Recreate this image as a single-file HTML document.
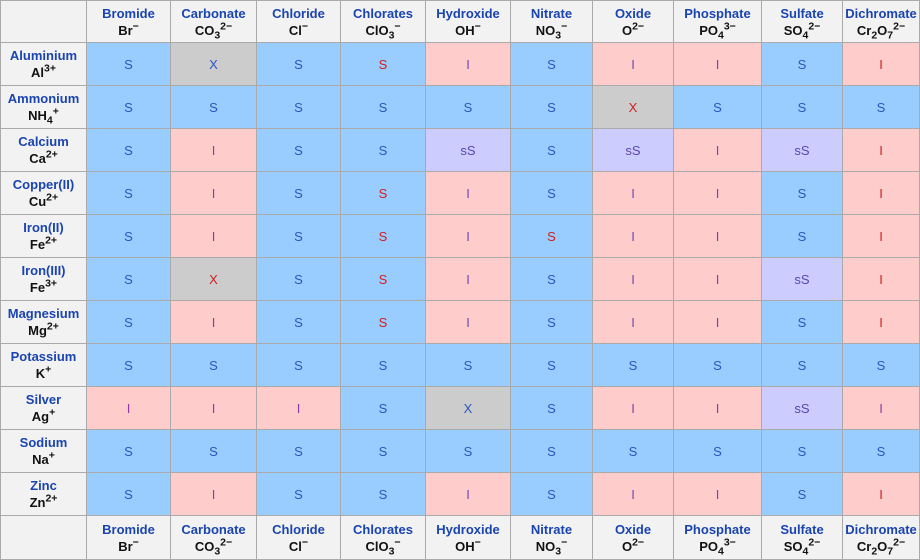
<!DOCTYPE html>
<html><head><meta charset="utf-8"><style>
body{margin:0;width:920px;height:560px;background:#fff;overflow:hidden;font-family:"Liberation Sans",Arial,sans-serif}
#g{position:relative;width:920px;height:560px}
.c{position:absolute;box-sizing:border-box;border-right:1px solid #aaa;border-bottom:1px solid #aaa;display:flex;flex-direction:column;align-items:center;justify-content:center;text-align:center;font-size:13px}
.h{background:#f2f2f2;font-weight:bold;line-height:17px}
.n{color:#1a44b0}
.f{color:#111}
sup,sub{font-size:10.5px;line-height:0}
.S{background:#99ccff}.I{background:#ffcccc}.sS{background:#ccccff}.X{background:#cccccc}
</style></head><body>
<div id="g"></div>
<script>
const anions=["Bromide","Carbonate","Chloride","Chlorates","Hydroxide","Nitrate","Oxide","Phosphate","Sulfate","Dichromate"];
const anionF=["Br<sup>−</sup>","CO<sub>3</sub><sup>2−</sup>","Cl<sup>−</sup>","ClO<sub>3</sub><sup>−</sup>","OH<sup>−</sup>","NO<sub>3</sub><sup>−</sup>","O<sup>2−</sup>","PO<sub>4</sub><sup>3−</sup>","SO<sub>4</sub><sup>2−</sup>","Cr<sub>2</sub>O<sub>7</sub><sup>2−</sup>"];
const cations=["Aluminium","Ammonium","Calcium","Copper(II)","Iron(II)","Iron(III)","Magnesium","Potassium","Silver","Sodium","Zinc"];
const cationF=["Al<sup>3+</sup>","NH<sub>4</sub><sup>+</sup>","Ca<sup>2+</sup>","Cu<sup>2+</sup>","Fe<sup>2+</sup>","Fe<sup>3+</sup>","Mg<sup>2+</sup>","K<sup>+</sup>","Ag<sup>+</sup>","Na<sup>+</sup>","Zn<sup>2+</sup>"];
const vals=[
"S X S S I S I I S I","S S S S S S X S S S","S I S S sS S sS I sS I","S I S S I S I I S I","S I S S I S I I S I",
"S X S S I S I I sS I","S I S S I S I I S I","S S S S S S S S S S","I I I S X S I I sS I","S S S S S S S S S S","S I S S I S I I S I"];
const red=["3R,9R","6R","9R","3R,9R","3R,5R,9R","1R,3R,9R","3R,9R","","","","9R"];
const colX=[0,87,171,257,341,426,511,593,674,762,843,920];
const rowY=[0,43,86,129,172,215,258,301,344,387,430,473,516,560];
const g=document.getElementById('g');
function cell(x0,x1,y0,y1,cls,html,color){
  const d=document.createElement('div');d.className='c '+cls;
  d.style.left=x0+'px';d.style.top=y0+'px';d.style.width=(x1-x0)+'px';d.style.height=(y1-y0)+'px';
  if(x0===0)d.style.borderLeft='1px solid #aaa';if(y0===0)d.style.borderTop='1px solid #aaa';
  d.innerHTML=html;if(color)d.style.color=color;g.appendChild(d);return d;}
const corner=cell(0,87,0,43,'h','');


[0,12].forEach(r=>{anions.forEach((a,i)=>{
  const d=cell(colX[i+1],colX[i+2],rowY[r],rowY[r+1],'h','<span class="n">'+a+'</span><span class="f">'+anionF[i]+'</span>');
  
  
});});
const fc=cell(0,87,516,560,'h','');


cations.forEach((c,r)=>{
  const h=cell(0,87,rowY[r+1],rowY[r+2],'h','<span class="n">'+c+'</span><span class="f">'+cationF[r]+'</span>');
  
  
  const vs=vals[r].split(' ');const reds=red[r].split(',').filter(Boolean).map(s=>parseInt(s));
  vs.forEach((v,i)=>{
    let col=v==='I'?'#7048b0':(v==='sS'?'#5a48b0':'#2d55c0');
    if(reds.includes(i)||(v==='X'&&(r===1||r===5)))col='#d02020';
    if(r===8&&v==='I')col='#9038a8';
    const d=cell(colX[i+1],colX[i+2],rowY[r+1],rowY[r+2],v,v,col);
    
    
  });
});
</script>
</body></html>
